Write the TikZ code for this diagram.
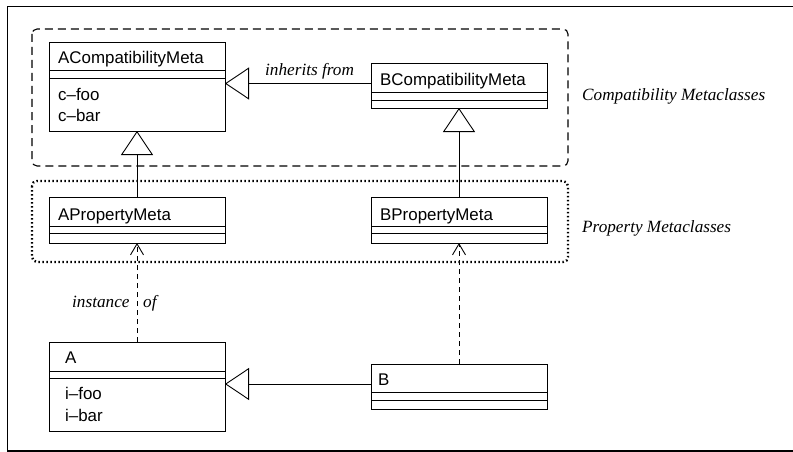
\documentclass[tikz,border=0pt]{standalone}
\usepackage{fontspec}
\setmainfont{Liberation Serif}
\setsansfont{Liberation Sans}
\usetikzlibrary{arrows.meta}

\tikzset{
  umlclass/.style={draw, line width=0.9pt, anchor=north west, inner sep=0pt, outer sep=0pt},
  compline/.style={line width=0.9pt},
  clsname/.style={anchor=base west, inner sep=0pt, font=\sffamily\fontsize{16.9}{21}\selectfont},
  lbl/.style={anchor=base west, inner sep=0pt, font=\itshape\fontsize{17.2}{21}\selectfont},
  generalize/.style={line width=0.9pt, -{Triangle[open, length=24pt, width=32pt, fill=white, line width=0.9pt]}},
  instanceof/.style={line width=0.9pt, dash pattern=on 5pt off 4pt, -{Straight Barb[length=11pt, width=13pt, line width=0.9pt]}},
  groupdashed/.style={line width=1.1pt, dash pattern=on 8pt off 5pt, rounded corners=5pt},
  groupdotted/.style={line width=2.4pt, dash pattern=on 1.5pt off 2.5pt, rounded corners=5pt},
  frame/.style={line width=1.8pt}
}

\begin{document}
\begin{tikzpicture}[x=1pt, y=-1pt]
\useasboundingbox (0,0) rectangle (793,452);

% outer frame (open to the right)
\draw[frame] (800,6.5) -- (7.5,6.5) -- (7.5,451) -- (800,451);

% package groups
\draw[groupdashed] (32,29) rectangle (568,166);
\draw[groupdotted] (32,181) rectangle (568,262);
\node[lbl] (lcompat) at (582,100.5) {Compatibility Metaclasses};
\node[lbl] (lprop) at (582,232) {Property Metaclasses};

% ACompatibilityMeta
\node[umlclass, minimum width=176pt, minimum height=89pt] (acm) at (49,42) {};
\draw[compline] (acm.west |- 0,70.5) -- (acm.east |- 0,70.5);
\draw[compline] (acm.west |- 0,78) -- (acm.east |- 0,78);
\node[clsname] (acmname) at (58,64) {ACompatibilityMeta};
\node[clsname] (acmfoo) at (58,100) {c\textendash foo};
\node[clsname] (acmbar) at (58,121.5) {c\textendash bar};

% BCompatibilityMeta
\node[umlclass, minimum width=176pt, minimum height=45pt] (bcm) at (371,63) {};
\draw[compline] (bcm.west |- 0,92) -- (bcm.east |- 0,92);
\draw[compline] (bcm.west |- 0,100) -- (bcm.east |- 0,100);
\node[clsname] (bcmname) at (380,85) {BCompatibilityMeta};

% APropertyMeta
\node[umlclass, minimum width=176pt, minimum height=46pt] (apm) at (49,197) {};
\draw[compline] (apm.west |- 0,226) -- (apm.east |- 0,226);
\draw[compline] (apm.west |- 0,233) -- (apm.east |- 0,233);
\node[clsname] (apmname) at (58,220) {APropertyMeta};

% BPropertyMeta
\node[umlclass, minimum width=176pt, minimum height=46pt] (bpm) at (371,197) {};
\draw[compline] (bpm.west |- 0,226) -- (bpm.east |- 0,226);
\draw[compline] (bpm.west |- 0,233) -- (bpm.east |- 0,233);
\node[clsname] (bpmname) at (380,220) {BPropertyMeta};

% A
\node[umlclass, minimum width=176pt, minimum height=89pt] (a) at (49,342) {};
\draw[compline] (a.west |- 0,371) -- (a.east |- 0,371);
\draw[compline] (a.west |- 0,378) -- (a.east |- 0,378);
\node[clsname] (aname) at (65,363.5) {A};
\node[clsname] (afoo) at (65,399) {i\textendash foo};
\node[clsname] (abar) at (65,421.5) {i\textendash bar};

% B
\node[umlclass, minimum width=176pt, minimum height=45pt] (b) at (371,364) {};
\draw[compline] (b.west |- 0,392.5) -- (b.east |- 0,392.5);
\draw[compline] (b.west |- 0,400) -- (b.east |- 0,400);
\node[clsname] (bname) at (378,385.5) {B};

% generalizations
\draw[generalize] (bcm.west |- 0,83.5) -- (acm.east |- 0,83.5);
\node[lbl] (linherits) at (265,76) {inherits from};
\draw[generalize] (apm.north) -- (acm.south);
\draw[generalize] (bpm.north) -- (bcm.south);
\draw[generalize] (b.west |- 0,384) -- (a.east |- 0,384);

% instance-of dependencies
\draw[instanceof] (a.north) -- (apm.south);
\draw[instanceof] (b.north) -- (bpm.south);
\node[lbl] (linstance) at (72,307.5) {instance};
\node[lbl] (lof) at (143,307.5) {of};
\end{tikzpicture}
\end{document}
